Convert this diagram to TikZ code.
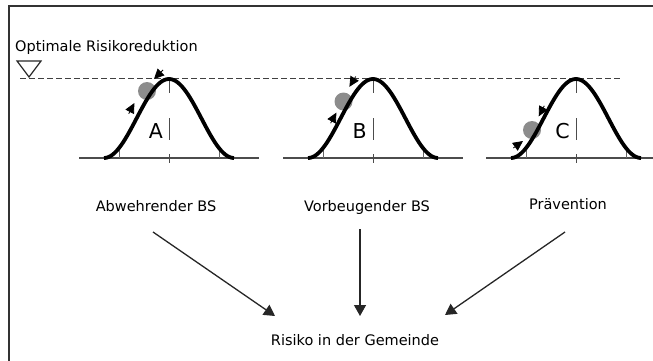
\documentclass[tikz,border=0pt]{standalone}
\usepackage{fontspec}
\setmainfont{DejaVu Sans}
\usetikzlibrary{arrows.meta}
\begin{document}
\begin{tikzpicture}[x=1pt,y=-1pt,
  every node/.style={font=\fontsize{14.5}{17}\selectfont,inner sep=0pt},
  letter/.style={font=\fontsize{20.5}{24}\selectfont,anchor=base east},
  frame/.style={line width=1.6pt,black!80},
  level/.style={line width=0.8pt,black!75,dash pattern=on 6pt off 3pt},
  axisline/.style={line width=1.4pt,black!70},
  tickline/.style={line width=0.8pt,black!60},
  midline/.style={line width=0.9pt,black!70,dash pattern=on 14pt off 25pt on 22pt off 14pt on 9pt off 40pt},
  bell/.style={line width=3.8pt,black},
  ball/.style={fill=black!45},
  nudge/.style={line width=0.8pt,black,-{Triangle[length=10pt,width=9.5pt]}},
  flow/.style={line width=1.3pt,black!85,-{Triangle[length=11pt,width=12pt]}}]
  \useasboundingbox (0,0) rectangle (653,361);
  \draw[frame] (9,361) -- (9,6) -- (660,6);
  % optimum level
  \node[anchor=base west] (optimum) at (15,52) {Optimale Risikoreduktion};
  \draw[line width=1.2pt,black!85] (17,61) -- (41,61) -- (29,77) -- cycle;
  \draw[level] (20,78) -- (622,78);
  % three bell curves with ball
  \foreach \cx/\lbl/\bx/\by in {169/A/147/91, 373/B/343.5/101.5, 576/C/532/130}{
    \draw[axisline] (\cx-90,158) -- (\cx+90,158);
    \draw[tickline] (\cx-50,149) -- (\cx-50,158);
    \draw[tickline] (\cx+50,149) -- (\cx+50,158);
    \draw[midline] (\cx,79) -- (\cx,163);
    \fill[ball] (\bx,\by) circle[radius=9];
    \draw[bell] plot[domain=-65:65,samples=61,smooth] ({\cx+\x},{158-39.5*(1+cos(180*\x/65))});
    \node[letter] (lbl\lbl) at (\cx-6,138) {\lbl};
  }
  % pushes on the balls
  \draw[nudge] (163,70) -- (154,79);
  \draw[nudge] (128.7,113.7) -- (134.4,103);
  \draw[nudge] (355.7,76.5) -- (349.4,86.8);
  \draw[nudge] (330.6,123.2) -- (336.4,112.6);
  \draw[nudge] (544.3,105.8) -- (538.7,116.4);
  \draw[nudge] (513.3,148) -- (523,141);
  % measures and their effect
  \node[anchor=base] (abw) at (156,211) {Abwehrender BS};
  \node[anchor=base] (vorb) at (367,211) {Vorbeugender BS};
  \node[anchor=base] (prav) at (568,209) {Prävention};
  \node[anchor=base] (risk) at (355,345) {Risiko in der Gemeinde};
  \draw[flow] ([shift={(-3,21)}]abw.base) -- ([shift={(-80,-29)}]risk.base);
  \draw[flow] ([shift={(-7,18)}]vorb.base) -- ([shift={(5,-29)}]risk.base);
  \draw[flow] ([shift={(-3,23)}]prav.base) -- ([shift={(90,-30)}]risk.base);
\end{tikzpicture}
\end{document}
